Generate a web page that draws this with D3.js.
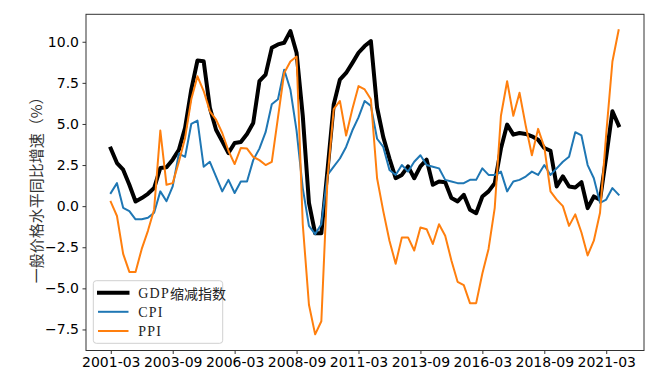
<!DOCTYPE html>
<html><head><meta charset="utf-8">
<script src="https://cdn.jsdelivr.net/npm/d3@7"></script>
<style>body{margin:0;background:#fff}svg{display:block}</style>
</head><body><svg id="c" width="668" height="381"></svg>
<script>
const quarters = [
"2001-03","2001-06","2001-09","2001-12","2002-03","2002-06","2002-09","2002-12",
"2003-03","2003-06","2003-09","2003-12","2004-03","2004-06","2004-09","2004-12",
"2005-03","2005-06","2005-09","2005-12","2006-03","2006-06","2006-09","2006-12",
"2007-03","2007-06","2007-09","2007-12","2008-03","2008-06","2008-09","2008-12",
"2009-03","2009-06","2009-09","2009-12","2010-03","2010-06","2010-09","2010-12",
"2011-03","2011-06","2011-09","2011-12","2012-03","2012-06","2012-09","2012-12",
"2013-03","2013-06","2013-09","2013-12","2014-03","2014-06","2014-09","2014-12",
"2015-03","2015-06","2015-09","2015-12","2016-03","2016-06","2016-09","2016-12",
"2017-03","2017-06","2017-09","2017-12","2018-03","2018-06","2018-09","2018-12",
"2019-03","2019-06","2019-09","2019-12","2020-03","2020-06","2020-09","2020-12",
"2021-03","2021-06","2021-09"];

const gdpDeflator = [
3.5,2.62,2.22,1.3, 0.28,0.49,0.75,1.1,
2.32,2.36,2.83,3.43, 4.76,7.09,8.86,8.82,
5.98,4.65,3.94,3.23, 3.84,3.9,4.39,5.06,
7.6,8.0,9.63,9.84, 9.94,10.65,9.33,5.5,
0.2,-1.65,-1.65,2.2, 6.18,7.7,8.1,8.7,
9.33,9.74,10.04,6.0, 4.2,2.9,1.7,1.9,
2.42,1.7,2.42,2.83, 1.3,1.5,1.45,0.49,
0.29,0.69,-0.22,-0.43, 0.59,0.9,1.4,3.5,
4.96,4.35,4.45,4.39, 4.25,4.04,3.54,3.37,
1.2,1.81,1.2,1.14, 1.46,-0.12,0.59,0.39,
3.0,5.77,4.92];

const cpi = [
0.8,1.4,-0.1,-0.3, -0.8,-0.8,-0.7,-0.4,
0.9,0.3,1.2,3.2, 3.0,5.0,5.2,2.4,
2.7,1.8,0.9,1.6, 0.8,1.5,1.5,2.8,
3.5,4.5,6.2,6.5, 8.3,7.1,4.6,1.1,
-1.2,-1.7,-1.1,1.9, 2.4,2.9,3.6,4.6,
5.4,6.4,6.1,4.1, 3.6,2.2,1.9,2.5,
2.1,2.7,3.1,2.5, 2.4,2.3,1.6,1.5,
1.4,1.4,1.6,1.6, 2.3,1.9,1.9,2.1,
0.9,1.5,1.6,1.8, 2.1,1.9,2.5,1.9,
2.3,2.7,3.0,4.5, 4.3,2.5,1.7,0.2,
0.4,1.1,0.7];

const ppi = [
0.26,-0.6,-2.9,-4.0, -4.0,-2.6,-1.5,-0.2,
4.6,1.3,1.4,2.7, 4.15,6.5,7.9,7.0,
5.77,5.26,4.45,3.37, 2.56,3.54,3.5,3.0,
2.8,2.5,2.7,5.4, 8.1,8.8,9.1,-1.1,
-6.0,-7.8,-7.0,1.7, 5.9,6.4,4.3,5.9,
7.3,7.1,6.5,1.7, -0.3,-2.1,-3.5,-1.9,
-1.9,-2.7,-1.3,-1.4, -2.3,-1.1,-1.8,-3.3,
-4.6,-4.8,-5.9,-5.9, -4.1,-2.6,-0.1,5.5,
7.6,5.5,6.9,4.9, 3.1,4.7,3.6,0.9,
0.4,0.0,-1.2,-0.5, -1.6,-3.0,-2.1,-0.4,
4.4,8.8,10.7];

const yTicks = [-7.5,-5.0,-2.5,0.0,2.5,5.0,7.5,10.0];
const xTickLabels = ["2001-03","2003-09","2006-03","2008-09","2011-03","2013-09","2016-03","2018-09","2021-03"];
const seriesNames = ["GDP缩减指数","CPI","PPI"];
const yLabel = "一般价格水平同比增速（%）";

const svg = d3.select("#c");
const L = 86, R = 644, T = 14.3, B = 350.5;
const x = d3.scaleLinear().domain([-4, 86.1]).range([L, R]);
const y = d3.scaleLinear().domain([-8.78, 11.67]).range([B, T]);

const series = [
  {name: seriesNames[0], values: gdpDeflator, color: "#000000", width: 4},
  {name: seriesNames[1], values: cpi, color: "#1f77b4", width: 2},
  {name: seriesNames[2], values: ppi, color: "#ff7f0e", width: 2}
];

const line = d3.line().x((d,i)=>x(i)).y(d=>y(d));
const plot = svg.append("g");
plot.append("defs").append("clipPath").attr("id","clip")
  .append("rect").attr("x",L).attr("y",T).attr("width",R-L).attr("height",B-T);
series.forEach(s=>{
  plot.append("path").datum(s.values)
    .attr("clip-path","url(#clip)")
    .attr("d", line)
    .attr("fill","none")
    .attr("stroke", s.color)
    .attr("stroke-width", s.width)
    .attr("stroke-linejoin","round")
    .attr("stroke-linecap","square");
});

// axes
const xAxis = d3.axisBottom(x)
  .tickValues(xTickLabels.map(l=>quarters.indexOf(l)))
  .tickFormat(i=>quarters[i])
  .tickSizeInner(3.5).tickSizeOuter(0).tickPadding(3.5);
const gx = svg.append("g").attr("transform",`translate(0,${B})`).call(xAxis);
gx.select(".domain").remove();
gx.selectAll("text").attr("font-family","DejaVu Sans").attr("font-size",14).attr("fill","#000");
gx.selectAll("line").attr("stroke","#000").attr("stroke-width",0.8);

const yAxis = d3.axisLeft(y).tickValues(yTicks).tickFormat(d3.format(".1f"))
  .tickSizeInner(3.5).tickSizeOuter(0).tickPadding(3.5);
const gy = svg.append("g").attr("transform",`translate(${L},0)`).call(yAxis);
gy.select(".domain").remove();
gy.selectAll("text").attr("font-family","DejaVu Sans").attr("font-size",14).attr("fill","#000");
gy.selectAll("line").attr("stroke","#000").attr("stroke-width",0.8);

// frame
svg.append("rect").attr("x",L).attr("y",T).attr("width",R-L).attr("height",B-T)
  .attr("fill","none").attr("stroke","#333").attr("stroke-width",1);

// y label
svg.append("text")
  .attr("transform",`translate(35,${(T+B)/2 + 4}) rotate(-90)`)
  .attr("text-anchor","middle").attr("dominant-baseline","central")
  .attr("font-family","'Noto Sans CJK SC', sans-serif").attr("font-size",15)
  .attr("fill","#333").text(yLabel);

// legend
const lg = svg.append("g");
lg.append("rect").attr("x",93.3).attr("y",280.7).attr("width",129.4).attr("height",62.6)
  .attr("rx",3).attr("fill","#fff").attr("fill-opacity",0.8)
  .attr("stroke","#d0d0d0").attr("stroke-width",1);
const rowsY = [292.7, 311.8, 331];
series.forEach((s,k)=>{
  lg.append("line").attr("x1",99).attr("x2",127.5).attr("y1",rowsY[k]).attr("y2",rowsY[k])
    .attr("stroke",s.color).attr("stroke-width",s.width).attr("stroke-linecap","square");
  const t = lg.append("text").attr("x",138.3).attr("y",rowsY[k]).attr("dominant-baseline","central")
    .attr("font-size",14).attr("fill","#222");
  const m = s.name.match(/^([A-Za-z]*)(.*)$/);
  t.append("tspan").attr("font-family","'Liberation Serif','DejaVu Serif',serif")
    .attr("letter-spacing",1.2).text(m[1]);
  if (m[2]) t.append("tspan").attr("font-family","'Noto Sans CJK SC',sans-serif").text(m[2]);
});
</script></body></html>
